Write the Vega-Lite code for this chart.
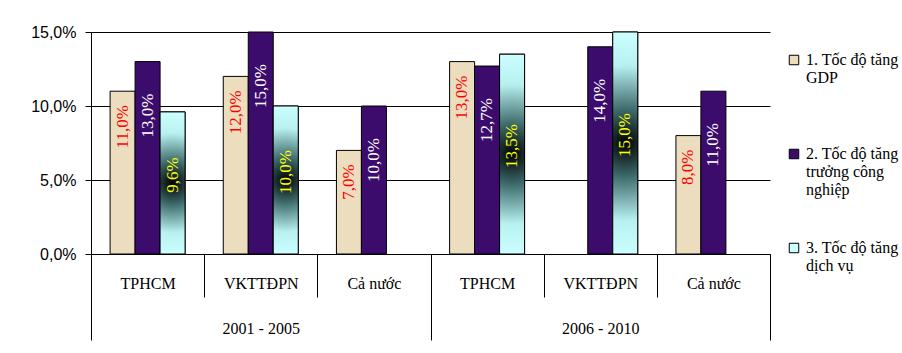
{
  "$schema": "https://vega.github.io/schema/vega-lite/v6.json",
  "width": 679,
  "height": 222,
  "autosize": {"type": "none"},
  "padding": {"left": 91, "top": 32, "right": 132, "bottom": 99},
  "background": "white",
  "config": {
    "locale": {"number": {"decimal": ",", "thousands": ".", "grouping": [3], "currency": ["", ""]}},
    "view": {"stroke": null}
  },
  "data": {
    "values": [
      {"period": "2001 - 2005", "cat": "2001 - 2005|TPHCM", "series": "1. Tốc độ tăng GDP", "value": 0.110},
      {"period": "2001 - 2005", "cat": "2001 - 2005|TPHCM", "series": "2. Tốc độ tăng trưởng công nghiệp", "value": 0.130},
      {"period": "2001 - 2005", "cat": "2001 - 2005|TPHCM", "series": "3. Tốc độ tăng dịch vụ", "value": 0.096},
      {"period": "2001 - 2005", "cat": "2001 - 2005|VKTTĐPN", "series": "1. Tốc độ tăng GDP", "value": 0.120},
      {"period": "2001 - 2005", "cat": "2001 - 2005|VKTTĐPN", "series": "2. Tốc độ tăng trưởng công nghiệp", "value": 0.150},
      {"period": "2001 - 2005", "cat": "2001 - 2005|VKTTĐPN", "series": "3. Tốc độ tăng dịch vụ", "value": 0.100},
      {"period": "2001 - 2005", "cat": "2001 - 2005|Cả nước", "series": "1. Tốc độ tăng GDP", "value": 0.070},
      {"period": "2001 - 2005", "cat": "2001 - 2005|Cả nước", "series": "2. Tốc độ tăng trưởng công nghiệp", "value": 0.100},
      {"period": "2006 - 2010", "cat": "2006 - 2010|TPHCM", "series": "1. Tốc độ tăng GDP", "value": 0.130},
      {"period": "2006 - 2010", "cat": "2006 - 2010|TPHCM", "series": "2. Tốc độ tăng trưởng công nghiệp", "value": 0.127},
      {"period": "2006 - 2010", "cat": "2006 - 2010|TPHCM", "series": "3. Tốc độ tăng dịch vụ", "value": 0.135},
      {"period": "2006 - 2010", "cat": "2006 - 2010|VKTTĐPN", "series": "2. Tốc độ tăng trưởng công nghiệp", "value": 0.140},
      {"period": "2006 - 2010", "cat": "2006 - 2010|VKTTĐPN", "series": "3. Tốc độ tăng dịch vụ", "value": 0.150},
      {"period": "2006 - 2010", "cat": "2006 - 2010|Cả nước", "series": "1. Tốc độ tăng GDP", "value": 0.080},
      {"period": "2006 - 2010", "cat": "2006 - 2010|Cả nước", "series": "2. Tốc độ tăng trưởng công nghiệp", "value": 0.110}
    ]
  },
  "layer": [
    {
      "encoding": {
        "x": {
          "field": "cat", "type": "nominal",
          "sort": ["2001 - 2005|TPHCM", "2001 - 2005|VKTTĐPN", "2001 - 2005|Cả nước", "2006 - 2010|TPHCM", "2006 - 2010|VKTTĐPN", "2006 - 2010|Cả nước"],
          "scale": {"paddingInner": 0, "paddingOuter": 0},
          "axis": {
            "title": null, "orient": "bottom", "labelExpr": "split(datum.value, '|')[1]",
            "tickBand": "extent", "tickSize": 43, "tickColor": "black", "tickWidth": 1,
            "domain": true, "domainColor": "black", "domainWidth": 1,
            "labelPadding": -14, "labelBaseline": "middle", "labelAngle": 0,
            "labelFont": "Liberation Serif", "labelFontSize": 16, "labelColor": "black", "grid": false
          }
        },
        "xOffset": {
          "field": "series", "type": "nominal",
          "scale": {"domain": ["1. Tốc độ tăng GDP", "2. Tốc độ tăng trưởng công nghiệp", "3. Tốc độ tăng dịch vụ"], "paddingInner": 0, "paddingOuter": 0.764}
        },
        "y": {
          "field": "value", "type": "quantitative", "title": null,
          "scale": {"domain": [0, 0.15], "nice": false},
          "axis": {
            "values": [0, 0.05, 0.1, 0.15], "format": ".1%", "title": null,
            "grid": true, "gridColor": "black", "gridOpacity": 1, "gridWidth": 1,
            "domainColor": "black", "tickColor": "black", "tickSize": 6, "labelPadding": 9,
            "labelFont": "Liberation Sans", "labelFontSize": 16, "labelColor": "black"
          }
        }
      },
      "layer": [
        {
          "mark": {"type": "bar", "stroke": "black", "strokeWidth": 1},
          "encoding": {
            "color": {
              "field": "series", "type": "nominal",
              "scale": {"domain": ["1. Tốc độ tăng GDP", "2. Tốc độ tăng trưởng công nghiệp", "3. Tốc độ tăng dịch vụ"], "range": ["#EBDDBD", "#3C0C6C", "#CCFFFF"]},
              "legend": {
                "orient": "none", "legendX": 695, "legendY": 20, "title": null,
                "symbolType": "square", "symbolSize": 90, "symbolStrokeColor": "black", "symbolStrokeWidth": 1, "symbolOpacity": 1,
                "labelFont": "Liberation Serif", "labelFontSize": 16, "labelColor": "black", "labelLimit": 300,
                "labelOffset": 4, "rowPadding": 42,
                "labelExpr": "datum.label == '1. Tốc độ tăng GDP' ? ['1. Tốc độ tăng', 'GDP', ''] : datum.label == '2. Tốc độ tăng trưởng công nghiệp' ? ['2. Tốc độ tăng', 'trưởng công', 'nghiệp'] : ['3. Tốc độ tăng', 'dịch vụ']"
              }
            }
          }
        },
        {
          "transform": [{"filter": "datum.series == '3. Tốc độ tăng dịch vụ'"}],
          "mark": {
            "type": "bar", "stroke": "black", "strokeWidth": 1,
            "fill": {
              "gradient": "radial", "x1": 0.5, "y1": 0.5, "r1": 0, "x2": 0.5, "y2": 0.5, "r2": 0.5,
              "stops": [
                {"offset": 0, "color": "#000000"},
                {"offset": 0.3, "color": "#3d6a6a"},
                {"offset": 0.7, "color": "#b8f0f0"},
                {"offset": 1, "color": "#CCFFFF"}
              ]
            }
          }
        },
        {
          "transform": [{"filter": "datum.series == '1. Tốc độ tăng GDP'"}],
          "mark": {"type": "text", "angle": 270, "align": "right", "baseline": "middle", "dx": -14, "font": "Liberation Serif", "fontSize": 17, "fill": "#FF0000"},
          "encoding": {"text": {"field": "value", "type": "quantitative", "format": ".1%"}}
        },
        {
          "transform": [{"filter": "datum.series == '2. Tốc độ tăng trưởng công nghiệp'"}],
          "mark": {"type": "text", "angle": 270, "align": "right", "baseline": "middle", "dx": -32, "font": "Liberation Serif", "fontSize": 17, "fill": "#FFFFFF"},
          "encoding": {"text": {"field": "value", "type": "quantitative", "format": ".1%"}}
        },
        {
          "transform": [{"filter": "datum.series == '3. Tốc độ tăng dịch vụ'"}, {"calculate": "datum.value / 2", "as": "mid"}],
          "mark": {"type": "text", "angle": 270, "align": "center", "baseline": "middle", "dx": 8, "font": "Liberation Serif", "fontSize": 17, "fill": "#FFFF00"},
          "encoding": {
            "y": {"field": "mid", "type": "quantitative", "title": null},
            "text": {"field": "value", "type": "quantitative", "format": ".1%"}
          }
        }
      ]
    },
    {
      "mark": {"type": "tick", "opacity": 0},
      "encoding": {
        "x": {
          "field": "period", "type": "nominal", "sort": ["2001 - 2005", "2006 - 2010"],
          "scale": {"paddingInner": 0, "paddingOuter": 0},
          "axis": {
            "title": null, "orient": "bottom", "tickBand": "extent", "tickSize": 86, "tickColor": "black", "tickWidth": 1,
            "domain": false, "labelPadding": -12, "labelBaseline": "middle", "labelAngle": 0,
            "labelFont": "Liberation Serif", "labelFontSize": 16, "labelColor": "black", "grid": false
          }
        },
        "y": {"field": "value", "type": "quantitative", "title": null}
      }
    }
  ],
  "resolve": {"scale": {"x": "independent"}}
}
